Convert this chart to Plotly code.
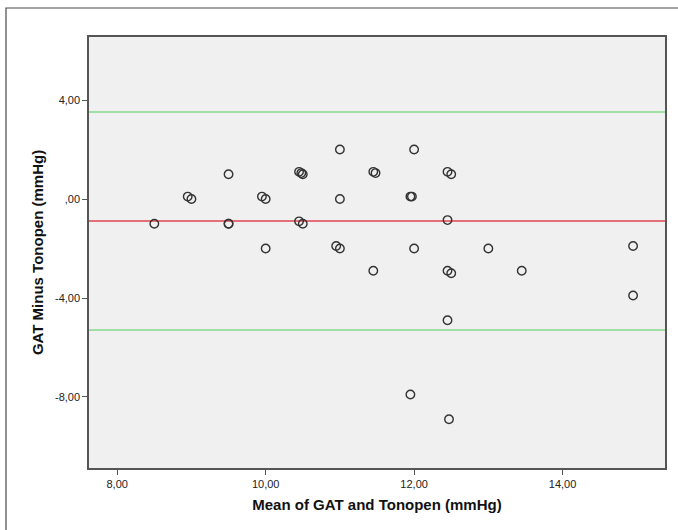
import plotly.graph_objects as go

# Bland-Altman data
mean_vals = [8.5, 8.95, 9.0, 9.5, 9.5, 9.5, 9.95, 10.0, 10.0, 10.45, 10.48, 10.5,
             10.45, 10.5, 11.0, 11.0, 10.95, 11.0, 11.45, 11.48, 11.45, 11.95, 11.97,
             12.0, 12.0, 11.95, 12.45, 12.5, 12.45, 12.45, 12.5, 12.45, 12.47, 13.0,
             13.45, 14.95, 14.95]
diff_vals = [-1.0, 0.1, 0.0, 1.0, -1.0, -1.0, 0.1, 0.0, -2.0, 1.1, 1.05, 1.0,
             -0.9, -1.0, 2.0, 0.0, -1.9, -2.0, 1.1, 1.05, -2.9, 0.1, 0.1,
             2.0, -2.0, -7.9, 1.1, 1.0, -0.85, -2.9, -3.0, -4.9, -8.9, -2.0,
             -2.9, -1.9, -3.9]

mean_diff = -0.89
upper_loa = 3.52
lower_loa = -5.29

x_ticks = [8, 10, 12, 14]
x_ticktext = ["8,00", "10,00", "12,00", "14,00"]
y_ticks = [4, 0, -4, -8]
y_ticktext = ["4,00", ",00", "-4,00", "-8,00"]

fig = go.Figure()
fig.add_trace(go.Scatter(
    x=mean_vals, y=diff_vals, mode="markers",
    marker=dict(symbol="circle-open", size=8.5, color="#333333", line=dict(width=1.4)),
    showlegend=False, hoverinfo="x+y"))

for yv, col in [(upper_loa, "#86d98c"), (mean_diff, "#e04550"), (lower_loa, "#86d98c")]:
    fig.add_shape(type="line", xref="paper", yref="y", x0=0, x1=1, y0=yv, y1=yv,
                  line=dict(color=col, width=1.5), layer="below")

# outer frame
fig.add_shape(type="rect", xref="paper", yref="paper", x0=-0.1441, x1=1.2,
              y0=-0.3, y1=1.0673, line=dict(color="#4a4a4a", width=1.2))

font = "Liberation Sans, Arial, sans-serif"
fig.update_layout(
    width=678, height=530,
    margin=dict(l=89, r=13, t=37, b=62),
    paper_bgcolor="white", plot_bgcolor="#f0f0f0",
    font=dict(family=font, size=11, color="#222"),
    xaxis=dict(range=[7.62, 15.38], tickvals=x_ticks, ticktext=x_ticktext,
               showgrid=False, zeroline=False, showline=True, linecolor="#555",
               linewidth=1.5, mirror=True, ticks="outside", ticklen=5, tickcolor="#555",
               title=dict(text="<b>Mean of GAT and Tonopen (mmHg)</b>",
                          font=dict(size=15, family=font, color="#111"), standoff=11)),
    yaxis=dict(range=[-10.87, 6.55], tickvals=y_ticks, ticktext=y_ticktext,
               showgrid=False, zeroline=False, showline=True, linecolor="#555",
               linewidth=1.5, mirror=True, ticks="outside", ticklen=5, tickcolor="#555",
               title=dict(text="<b>GAT Minus Tonopen (mmHg)</b>",
                          font=dict(size=15, family=font, color="#111"), standoff=8)),
)

fig.write_html("out.html")
